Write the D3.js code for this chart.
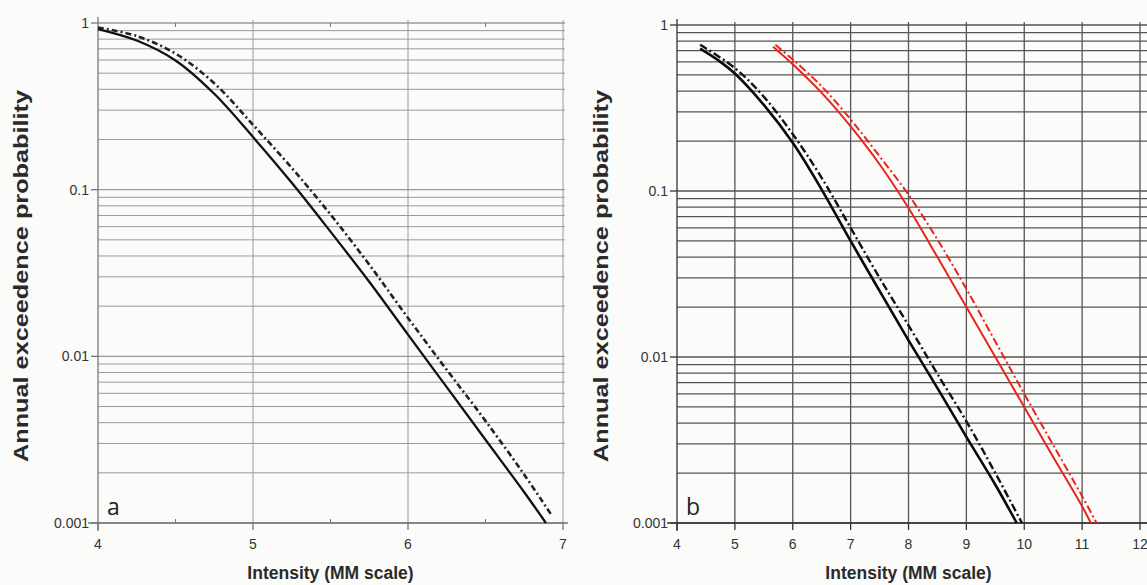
<!DOCTYPE html>
<html>
<head>
<meta charset="utf-8">
<script src="https://cdn.jsdelivr.net/npm/d3@7"></script>
<style>
  body { margin: 0; background: #fbfbfa; }
  svg { display: block; }
  .tick-label { font-family: "Liberation Sans", Arial, sans-serif; font-size: 14px; fill: #333; }
  .axis-title { font-family: "Liberation Sans", Arial, sans-serif; font-size: 17.5px; font-weight: bold; fill: #2a2a2a; }
  .y-title { font-size: 21px; }
  .panel-letter { font-family: "Open Sans", sans-serif; font-size: 23px; fill: #222; }
</style>
</head>
<body>
<svg id="chart" width="1147" height="585"></svg>
<script>
// ---- data ----
// panel a
const aSolidX = [4, 4.25, 4.5, 4.75, 5, 5.25, 5.5, 5.75, 6, 6.25, 6.5, 6.75, 6.89];
const aSolidY = [0.92, 0.785, 0.596, 0.376, 0.207, 0.11, 0.056, 0.028, 0.0135, 0.00653, 0.00316, 0.00153, 0.001];
const aDashX = [4, 4.25, 4.5, 4.75, 5, 5.25, 5.5, 5.75, 6, 6.25, 6.5, 6.75, 6.93];
const aDashY = [0.94, 0.835, 0.655, 0.435, 0.245, 0.135, 0.071, 0.0355, 0.017, 0.0083, 0.0041, 0.00195, 0.0011];

// panel b
const bBlackSolidX = [4.4, 4.75, 5, 5.5, 6, 6.5, 7, 7.5, 8, 8.5, 9, 9.5, 9.87];
const bBlackSolidY = [0.72, 0.6, 0.51, 0.33, 0.195, 0.102, 0.05, 0.025, 0.0126, 0.0065, 0.0033, 0.0017, 0.001];
const bBlackDashX = [4.4, 5, 5.5, 6, 6.5, 7, 7.5, 8, 8.5, 9, 9.5, 9.96];
const bBlackDashY = [0.76, 0.55, 0.37, 0.22, 0.12, 0.06, 0.03, 0.0155, 0.0079, 0.0041, 0.002, 0.001];
const bRedSolidX = [5.66, 6, 6.5, 7, 7.5, 8, 8.5, 9, 9.5, 10, 10.5, 11, 11.15];
const bRedSolidY = [0.74, 0.58, 0.39, 0.245, 0.145, 0.079, 0.04, 0.02, 0.01, 0.005, 0.0025, 0.00126, 0.001];
const bRedDashX = [5.7, 6, 6.5, 7, 7.5, 8, 8.5, 9, 9.5, 10, 10.5, 11, 11.25];
const bRedDashY = [0.76, 0.62, 0.427, 0.27, 0.162, 0.095, 0.051, 0.0257, 0.0124, 0.006, 0.00295, 0.00145, 0.001];

const yMajorTicks = [1, 0.1, 0.01, 0.001];
const yMajorLabels = ["1", "0.1", "0.01", "0.001"];
const aXTicks = [4, 5, 6, 7];
const aXMinor = [4.5, 5.5, 6.5];
const bXTicks = [4, 5, 6, 7, 8, 9, 10, 11, 12];

const xTitle = "Intensity (MM scale)";
const yTitle = "Annual exceedence probability";

function zip(xs, ys) {
    return xs.map((x, i) => ({x: x, y: ys[i]}));
}

class LogPanel {

    /**
     * @param _config placement and styling of one panel
     * @param _series list of {points, color, width, dash}
     */
    constructor(_config, _series) {
        this.config = _config;
        this.series = _series;
        this.initVis();
    }

    initVis() {
        let vis = this;
        const c = vis.config;

        vis.svg = d3.select('#chart');
        vis.g = vis.svg.append('g');

        vis.xScale = d3.scaleLinear()
            .domain(c.xDomain)
            .range([c.left, c.right]);

        vis.yScale = d3.scaleLog()
            .domain([0.001, 1])
            .range([c.bottom, c.top]);

        vis.renderVis();
    }

    renderVis() {
        let vis = this;
        const c = vis.config;
        const x = vis.xScale, y = vis.yScale;

        // horizontal grid at every 1..9 x decade
        vis.g.append('g')
            .selectAll('line')
            .data(y.ticks())
            .join('line')
            .attr('x1', c.left)
            .attr('x2', c.gridRight)
            .attr('y1', d => y(d))
            .attr('y2', d => y(d))
            .attr('stroke', c.gridColor)
            .attr('stroke-width', d => yMajorTicks.includes(d) ? c.gridWidth + 0.3 : c.gridWidth);

        // vertical grid
        vis.g.append('g')
            .selectAll('line')
            .data(c.xTicks.slice(1))
            .join('line')
            .attr('x1', d => x(d))
            .attr('x2', d => x(d))
            .attr('y1', c.top - 3)
            .attr('y2', c.bottom)
            .attr('stroke', c.gridColor)
            .attr('stroke-width', c.gridWidth);

        // y axis line + ticks
        vis.g.append('line')
            .attr('x1', c.left).attr('x2', c.left)
            .attr('y1', c.top - 6).attr('y2', c.bottom + 8)
            .attr('stroke', c.axisColor)
            .attr('stroke-width', 1.3);

        vis.g.append('g')
            .selectAll('line')
            .data(yMajorTicks)
            .join('line')
            .attr('x1', c.left - 7).attr('x2', c.left)
            .attr('y1', d => y(d)).attr('y2', d => y(d))
            .attr('stroke', c.axisColor)
            .attr('stroke-width', 1.3);

        vis.g.append('g')
            .selectAll('text')
            .data(yMajorTicks)
            .join('text')
            .attr('class', 'tick-label')
            .attr('x', c.left - 9)
            .attr('y', d => y(d))
            .attr('dy', '0.35em')
            .attr('text-anchor', 'end')
            .text((d, i) => yMajorLabels[i]);

        // x axis line + ticks
        vis.g.append('line')
            .attr('x1', c.left - 10).attr('x2', c.axisRight)
            .attr('y1', c.bottom).attr('y2', c.bottom)
            .attr('stroke', c.axisColor)
            .attr('stroke-width', 1.3);

        vis.g.append('g')
            .selectAll('line')
            .data(c.xTicks)
            .join('line')
            .attr('x1', d => x(d)).attr('x2', d => x(d))
            .attr('y1', c.bottom).attr('y2', c.bottom + 7)
            .attr('stroke', c.axisColor)
            .attr('stroke-width', 1.3);

        if (c.xMinor) {
            vis.g.append('g')
                .selectAll('line')
                .data(c.xMinor)
                .join('line')
                .attr('x1', d => x(d)).attr('x2', d => x(d))
                .attr('y1', c.bottom - 4).attr('y2', c.bottom)
                .attr('stroke', c.axisColor);
            vis.g.append('g')
                .selectAll('line')
                .data(c.xMinor)
                .join('line')
                .attr('x1', d => x(d)).attr('x2', d => x(d))
                .attr('y1', y(1)).attr('y2', y(1) + 4)
                .attr('stroke', c.axisColor);
        }

        vis.g.append('g')
            .selectAll('text')
            .data(c.xTicks)
            .join('text')
            .attr('class', 'tick-label')
            .attr('x', d => x(d))
            .attr('y', c.bottom + 26)
            .attr('text-anchor', 'middle')
            .text(d => d);

        // curves, smoothed through the read points
        const line = d3.line()
            .x(d => x(d.x))
            .y(d => y(d.y))
            .curve(d3.curveCatmullRom.alpha(0.5));

        vis.g.append('g')
            .selectAll('path')
            .data(vis.series)
            .join('path')
            .attr('d', d => line(d.points))
            .attr('fill', 'none')
            .attr('stroke', d => d.color)
            .attr('stroke-width', d => d.width)
            .attr('stroke-dasharray', d => d.dash || null)
            .attr('stroke-linecap', 'butt');

        // titles
        vis.g.append('text')
            .attr('class', 'axis-title')
            .attr('x', (c.left + c.titleRight) / 2)
            .attr('y', 579)
            .attr('text-anchor', 'middle')
            .text(xTitle);

        vis.g.append('text')
            .attr('class', 'axis-title y-title')
            .attr('transform', `translate(${c.yTitleX},276) rotate(-90)`)
            .attr('text-anchor', 'middle')
            .attr('textLength', 372)
            .attr('lengthAdjust', 'spacingAndGlyphs')
            .text(yTitle);

        vis.g.append('text')
            .attr('class', 'panel-letter')
            .attr('x', c.left + 9)
            .attr('y', c.bottom - 8)
            .text(c.letter);
    }
}

const panelA = new LogPanel({
    xDomain: [4, 7], left: 98, right: 563, top: 23, bottom: 523,
    gridRight: 565, axisRight: 568, titleRight: 563,
    xTicks: aXTicks, xMinor: aXMinor,
    gridColor: '#9a9a9a', gridWidth: 1, axisColor: '#777',
    yTitleX: 28, letter: 'a'
}, [
    {points: zip(aSolidX, aSolidY), color: '#111', width: 2.3},
    {points: zip(aDashX, aDashY), color: '#222', width: 2.6, dash: '6,3,2,3'}
]);

const panelB = new LogPanel({
    xDomain: [4, 12], left: 677, right: 1140, top: 25, bottom: 523,
    gridRight: 1147, axisRight: 1147, titleRight: 1140,
    xTicks: bXTicks, xMinor: null,
    gridColor: '#555', gridWidth: 1.3, axisColor: '#333',
    yTitleX: 608, letter: 'b'
}, [
    {points: zip(bBlackSolidX, bBlackSolidY), color: '#0a0a0a', width: 2.6},
    {points: zip(bBlackDashX, bBlackDashY), color: '#111', width: 2.4, dash: '8,3,2,3'},
    {points: zip(bRedSolidX, bRedSolidY), color: '#e8251c', width: 2},
    {points: zip(bRedDashX, bRedDashY), color: '#e8251c', width: 2, dash: '8,3,2,3'}
]);
</script>
</body>
</html>
